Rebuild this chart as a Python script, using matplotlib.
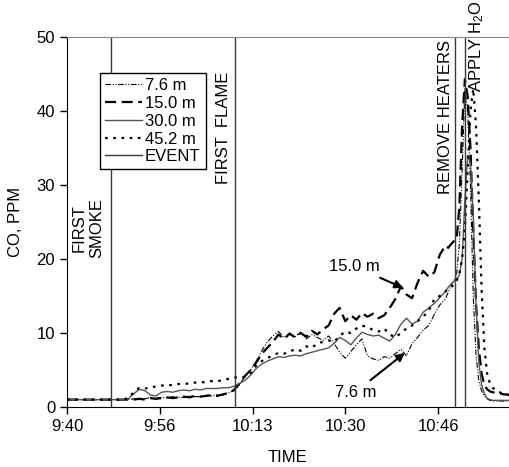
import matplotlib
matplotlib.use("Agg")
import matplotlib.pyplot as plt

plt.rcParams['font.family'] = ['Liberation Sans', 'DejaVu Sans']
plt.rcParams['mathtext.default'] = 'regular'

# minutes after 9:40
minutes = [0, 2, 4, 6, 8, 10] + list(range(11, 69)) + [68.5 + 0.5 * i for i in range(24)]

co_7_6 = [1.0, 1.0, 1.0, 1.0, 1.0, 1.0,
          1.0, 1.1, 1.2, 1.1, 1.3, 1.2, 1.3, 1.2, 1.4, 1.3,
          1.3, 1.5, 1.4, 1.4, 1.6, 1.5, 1.7, 1.6, 1.9, 2.2,
          3.0, 4.2, 5.0, 6.2, 7.6, 8.8, 9.6, 10.2, 9.4, 10.0,
          9.5, 10.1, 9.2, 9.8, 9.4, 9.0, 9.6, 8.6, 7.4, 6.6,
          7.5, 8.4, 9.2, 6.9, 6.5, 6.3, 6.8, 6.6, 7.2, 7.8,
          6.9, 8.6, 9.4, 10.4, 11.0, 12.5, 13.8, 14.6,
          15.5, 16.5, 17.0, 17.8, 22.0, 32.0, 43.0, 40.0, 30.0, 15.0,
          7.0, 3.5, 2.2, 1.5, 1.1, 0.9, 0.8, 0.8, 0.8, 0.8, 0.8, 0.8, 0.8, 0.8]

co_15_0 = [1.0, 1.0, 1.0, 1.0, 1.0, 1.0,
           1.0, 1.0, 1.1, 1.0, 1.2, 1.1, 1.2, 1.3, 1.2, 1.3,
           1.4, 1.3, 1.5, 1.4, 1.5, 1.6, 1.5, 1.7, 1.9, 2.3,
           3.2, 4.2, 5.0, 6.0, 7.2, 8.0, 8.8, 9.8, 9.2, 9.9,
           9.4, 10.0, 9.5, 10.3, 9.8, 10.5, 11.0, 12.6, 13.4, 11.6,
           12.4, 11.8, 12.7, 12.2, 12.6, 12.0, 12.4, 13.4, 14.6, 16.3,
           15.2, 14.7, 16.8, 18.4, 17.6, 18.2, 20.6, 21.8,
           21.5, 22.0, 22.4, 22.6, 27.0, 38.0, 44.3, 42.0, 35.0, 24.0,
           14.0, 8.0, 4.5, 3.0, 2.4, 2.1, 2.0, 1.9, 1.8, 1.8, 1.7, 1.7, 1.6, 1.6]

co_30_0 = [1.0, 1.0, 1.0, 1.0, 1.0, 1.0,
           1.1, 1.8, 2.4, 2.2, 1.6, 1.5, 2.0, 2.1, 2.0, 2.2,
           2.3, 2.2, 2.4, 2.3, 2.5, 2.5, 2.5, 2.6, 2.6, 2.8,
           3.2, 3.6, 4.3, 5.2, 5.8, 6.2, 6.5, 6.8, 6.7, 6.9,
           7.0, 6.9, 7.2, 7.4, 7.6, 7.8, 8.0, 8.6, 9.4, 9.0,
           8.4, 9.3, 10.1, 9.8, 9.6, 9.7, 9.3, 8.9, 9.8, 11.2,
           12.0, 11.2, 11.6, 12.8, 13.4, 14.0, 14.8, 15.6,
           16.2, 16.6, 17.0, 17.3, 17.8, 20.0, 28.0, 34.0, 33.0, 26.0,
           14.0, 6.0, 3.0, 1.8, 1.2, 1.0, 0.9, 0.9, 0.9, 0.9, 0.9, 0.9, 0.9, 0.9]

co_45_2 = [1.0, 1.0, 1.0, 1.0, 1.0, 1.0,
           1.2, 2.0, 2.6, 2.5, 2.6, 2.8, 2.9, 2.9, 3.0, 3.1,
           3.1, 3.2, 3.3, 3.3, 3.4, 3.5, 3.5, 3.6, 3.8, 4.0,
           4.0, 4.1, 4.6, 5.6, 6.2, 6.6, 7.0, 7.3, 7.2, 7.5,
           7.8, 7.6, 8.2, 8.0, 8.6, 8.8, 9.0, 8.8, 9.6, 10.2,
           10.0, 10.6, 11.0, 10.8, 10.4, 10.2, 10.6, 9.8, 9.4, 10.0,
           10.6, 11.0, 11.6, 12.2, 13.0, 14.6, 15.0, 15.6,
           16.0, 16.2, 16.5, 17.0, 18.0, 20.0, 24.0, 32.0, 40.0, 43.0,
           38.0, 28.0, 16.0, 8.0, 4.5, 3.2, 2.6, 2.3, 2.1, 1.9, 1.8, 1.7, 1.6, 1.5]

event_times = [7.9, 30.2, 69.7, 71.5]

tick_pos = [0, 50 / 3, 100 / 3, 50, 200 / 3]
tick_labels = ['9:40', '9:56', '10:13', '10:30', '10:46']

fig = plt.figure(figsize=(5.09, 4.67), dpi=100)
ax = fig.add_axes([67 / 509, 60 / 467, 442 / 509, 370 / 467])

ax.plot(minutes, co_7_6, color='black', lw=0.8, linestyle=(0, (5, 1.5, 1, 1.5, 1, 1.5)), label='7.6 m')
ax.plot(minutes, co_15_0, color='black', lw=1.6, linestyle=(0, (5, 2.5)), label='15.0 m')
ax.plot(minutes, co_30_0, color='#555555', lw=1.0, label='30.0 m')
ax.plot(minutes, co_45_2, color='black', lw=1.6, linestyle=(0, (1.2, 2.5)), label='45.2 m')
for i, t in enumerate(event_times):
    ax.axvline(t, color='#3a3a3a', lw=1.0, label='EVENT' if i == 0 else None)

ax.set_xlim(0, 442 / 5.565)
ax.set_ylim(0, 50)
ax.set_yticks([0, 10, 20, 30, 40, 50])
ax.set_xticks(tick_pos)
ax.set_xticklabels(tick_labels)
ax.tick_params(labelsize=12, length=5, width=1, direction='out')
ax.spines['right'].set_visible(False)
ax.spines['top'].set_color('#888888')
ax.set_xlabel('TIME', fontsize=12, labelpad=12)
ax.set_ylabel('CO, PPM', fontsize=12, labelpad=10)

ax.text(3.8, 24.2, 'FIRST\nSMOKE', rotation=90, ha='center', va='center', fontsize=12, multialignment='center')
ax.text(28.1, 37.7, 'FIRST  FLAME', rotation=90, ha='center', va='center', fontsize=12)
ax.text(68.0, 39.2, 'REMOVE HEATERS', rotation=90, ha='center', va='center', fontsize=12)
ax.text(73.6, 48.8, 'APPLY H$_2$O', rotation=90, ha='center', va='center', fontsize=12, clip_on=False)

ax.annotate('15.0 m', xy=(60.4, 16.1), xytext=(51.6, 19.0), fontsize=12, ha='center', va='center',
            arrowprops=dict(arrowstyle='-|>', color='black', lw=1.5, mutation_scale=12, shrinkA=2, shrinkB=0))
ax.annotate('7.6 m', xy=(60.7, 7.3), xytext=(51.8, 2.0), fontsize=12, ha='center', va='center',
            arrowprops=dict(arrowstyle='-|>', color='black', lw=1.5, mutation_scale=12, shrinkA=2, shrinkB=0))

leg = ax.legend(loc='upper left', bbox_to_anchor=((100 - 67) / 442, (407 - 73) / 370), borderaxespad=0,
                fontsize=12, frameon=True, fancybox=False, handlelength=2.2, handletextpad=0.2,
                labelspacing=0.17, borderpad=0.3, framealpha=1)
leg.get_frame().set_edgecolor('black')
leg.get_frame().set_linewidth(1.0)

plt.savefig('out.png', dpi=100)
